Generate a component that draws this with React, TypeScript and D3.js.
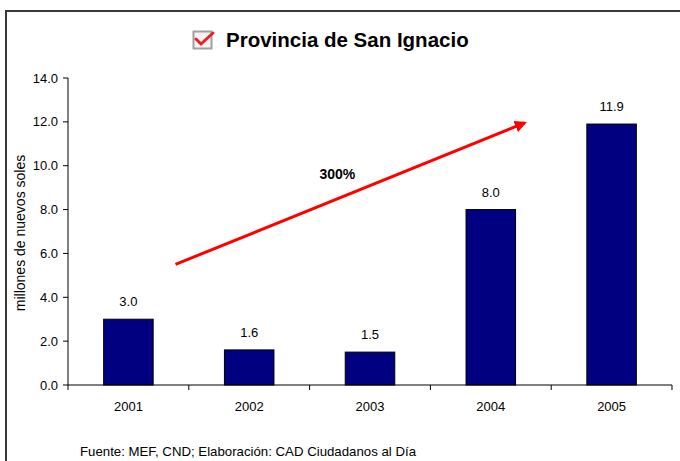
import * as d3 from "d3";

const years = ["2001", "2002", "2003", "2004", "2005"];
const values = [3.0, 1.6, 1.5, 8.0, 11.9];
const yTicks = [0, 2, 4, 6, 8, 10, 12, 14];
// arrow endpoints: [category position (0..5), value]
const arrowFrom = [0.89, 5.5];
const arrowTo = [3.78, 11.95];
const arrowLabel = "300%";
const labelAt = [2.23, 9.4];

const W = 680, H = 461;
const left = 68, right = 672, top = 78, bottom = 385;
const font = "Liberation Sans, Arial, sans-serif";

export default function App() {
  const x = d3.scaleBand<string>().domain(years).range([left, right]).padding(0);
  const xc = d3.scaleLinear().domain([0, years.length]).range([left, right]);
  const y = d3.scaleLinear().domain([0, 14]).range([bottom, top]);
  const bw = x.bandwidth() * 0.41;

  const ax1 = xc(arrowFrom[0]), ay1 = y(arrowFrom[1]);
  const ax2 = xc(arrowTo[0]), ay2 = y(arrowTo[1]);

  return (
    <div style={{ position: "absolute", left: 0, top: 0 }}>
      <svg width={W} height={H} style={{ display: "block", background: "#fff" }}>
        <defs>
          <marker id="arr" viewBox="0 0 10 10" refX="8" refY="5" markerWidth="4" markerHeight="4" orient="auto">
            <path d="M0,0 L10,5 L0,10 z" fill="#ff0000" />
          </marker>
        </defs>
        <rect x={6} y={11} width={W + 10} height={H + 10} fill="none" stroke="#3a3a3a" strokeWidth={2} />

        {/* title */}
        <g transform="translate(193,31)">
          <rect x={0.5} y={0.5} width={18} height={17} fill="#f4f4f4" stroke="#a0a0a0" strokeWidth={2} />
          <path d="M3,8 L8,13 L20,2" fill="none" stroke="#e8202a" strokeWidth={3} strokeLinecap="round" />
        </g>
        <text x={226} y={47} fontFamily={font} fontWeight="bold" fontSize={20.5} fill="#000">
          Provincia de San Ignacio
        </text>

        {/* y axis */}
        <line x1={left} x2={left} y1={top} y2={bottom} stroke="#000" />
        {yTicks.map((t) => (
          <g key={t}>
            <line x1={left - 5} x2={left} y1={y(t)} y2={y(t)} stroke="#000" />
            <text x={left - 10} y={y(t) + 4.5} textAnchor="end" fontFamily={font} fontSize={13} fill="#000">
              {t.toFixed(1)}
            </text>
          </g>
        ))}
        <text
          transform={`translate(25,233) rotate(-90)`}
          textAnchor="middle"
          fontFamily={font}
          fontSize={14}
          fill="#000"
        >
          millones de nuevos soles
        </text>

        {/* bars */}
        {years.map((yr, i) => {
          const cx = (x(yr) as number) + x.bandwidth() / 2;
          return (
            <g key={yr}>
              <rect
                x={cx - bw / 2}
                y={y(values[i])}
                width={bw}
                height={bottom - y(values[i])}
                fill="#000080"
                stroke="#000"
                strokeWidth={1}
              />
              <text x={cx} y={y(values[i]) - 13} textAnchor="middle" fontFamily={font} fontSize={13} fill="#000">
                {values[i].toFixed(1)}
              </text>
              <text x={cx} y={bottom + 26} textAnchor="middle" fontFamily={font} fontSize={13} fill="#000">
                {yr}
              </text>
            </g>
          );
        })}

        {/* x axis */}
        <line x1={left} x2={right} y1={bottom} y2={bottom} stroke="#000" />
        {d3.range(years.length + 1).map((i) => (
          <line key={i} x1={xc(i)} x2={xc(i)} y1={bottom} y2={bottom + 5} stroke="#000" />
        ))}

        {/* growth arrow */}
        <line x1={ax1} y1={ay1} x2={ax2} y2={ay2} stroke="#ff0000" strokeWidth={3} markerEnd="url(#arr)" />
        <text x={xc(labelAt[0])} y={y(labelAt[1])} textAnchor="middle" fontFamily={font} fontWeight="bold" fontSize={14} fill="#000">
          {arrowLabel}
        </text>

        <text x={80} y={456} fontFamily={font} fontSize={13} textLength={336} lengthAdjust="spacingAndGlyphs" fill="#000">
          Fuente: MEF, CND; Elaboración: CAD Ciudadanos al Día
        </text>
      </svg>
    </div>
  );
}
